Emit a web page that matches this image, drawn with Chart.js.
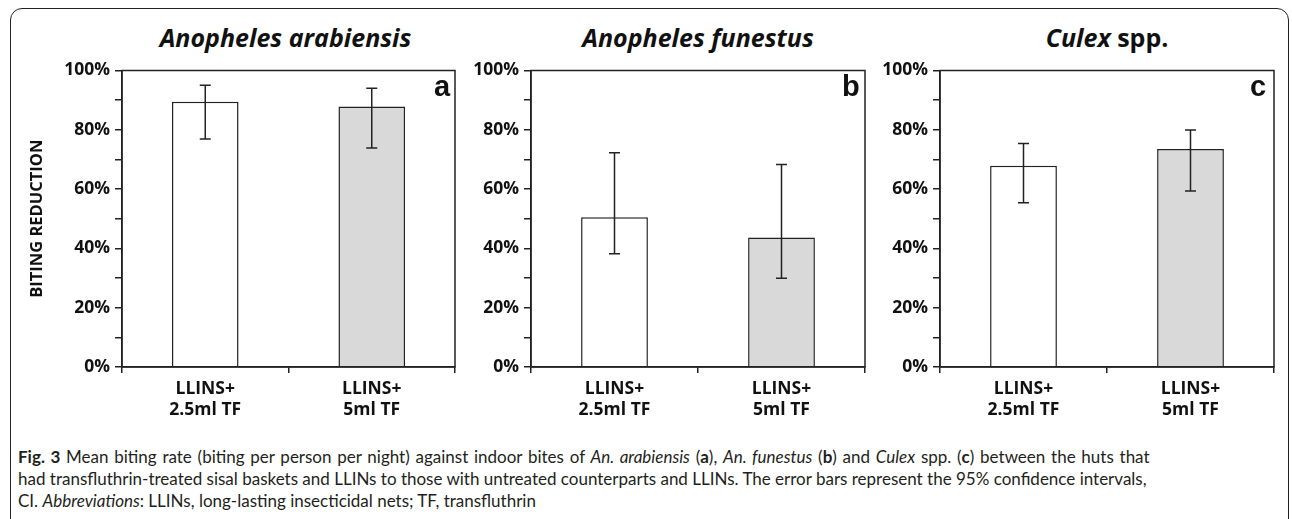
<!DOCTYPE html>
<html>
<head>
<meta charset="utf-8">
<script src="https://cdn.jsdelivr.net/npm/chart.js@4.4.1/dist/chart.umd.min.js"></script>
<style>
  body { margin: 0; width: 1292px; height: 519px; background: #fff; position: relative; overflow: hidden; }
  #frame { position: absolute; left: 10px; top: 8px; width: 1279px; height: 530px; box-sizing: border-box;
           border: 1.5px solid #222; border-radius: 12px; }
  .panel { position: absolute; top: 55px; height: 380px; }
  .title { position: absolute; top: 21px; font: italic bold 25px "Open Sans", sans-serif; color: #111;
           text-align: center; line-height: 32px; }
  .title span { font-style: normal; }
  .letter { position: absolute; top: 70px; font: bold 29px "Liberation Sans", Arial, sans-serif; color: #111; line-height: 32px; }
  #caption { position: absolute; left: 18px; top: 446px; font: 17px Lato, sans-serif; color: #231f20;
             line-height: 22px; white-space: nowrap; }
  #caption .wide { word-spacing: 1.4px; }
</style>
</head>
<body>
<div id="frame"></div>

<div class="title" style="left:119px;width:333px">Anopheles arabiensis</div>
<div class="title" style="left:531px;width:334px">Anopheles funestus</div>
<div class="title" style="left:940px;width:334px">Culex <span>spp.</span></div>

<div class="panel" style="left:10px;width:455px"><canvas id="chartA" width="455" height="380"></canvas></div>
<div class="panel" style="left:465px;width:410px"><canvas id="chartB" width="410" height="380"></canvas></div>
<div class="panel" style="left:880px;width:404px"><canvas id="chartC" width="404" height="380"></canvas></div>

<div class="letter" style="left:434px">a</div>
<div class="letter" style="left:842px">b</div>
<div class="letter" style="left:1250px">c</div>

<div id="caption">
  <span class="wide"><b>Fig. 3</b> Mean biting rate (biting per person per night) against indoor bites of <i>An. arabiensis</i> (<b>a</b>), <i>An. funestus</i> (<b>b</b>) and <i>Culex</i> spp. (<b>c</b>) between the huts that</span><br>
  had transfluthrin-treated sisal baskets and LLINs to those with untreated counterparts and LLINs. The error bars represent the 95% confidence intervals,<br>
  CI. <i>Abbreviations</i>: LLINs, long-lasting insecticidal nets; TF, transfluthrin
</div>

<script>
const treatments = [["LLINS+", "2.5ml TF"], ["LLINS+", "5ml TF"]];

// biting reduction (%), with 95% CI
const arabMean = [89.5, 87.9];
const arabLow = [76.9, 73.9];
const arabHigh = [95.0, 94.0];

const funMean = [50.5, 43.7];
const funLow = [38.2, 29.9];
const funHigh = [72.3, 68.3];

const culexMean = [67.9, 73.5];
const culexLow = [55.4, 59.4];
const culexHigh = [75.4, 79.9];

const INK = "#222";
const barColors = ["#ffffff", "#d9d9d9"];

// draws top + right edge of the plot box
const framePlugin = {
  id: "frame",
  afterDraw(chart) {
    const { ctx, chartArea: a } = chart;
    ctx.save();
    ctx.strokeStyle = INK;
    ctx.lineWidth = 1.5;
    ctx.strokeRect(a.left, a.top, a.right - a.left, a.bottom - a.top);
    ctx.restore();
  }
};

// 95% CI whiskers
const errorBars = {
  id: "errorBars",
  afterDatasetsDraw(chart, args, opts) {
    const { ctx, scales: { x, y } } = chart;
    ctx.save();
    ctx.strokeStyle = INK;
    ctx.lineWidth = 1.5;
    opts.low.forEach((lo, i) => {
      const px = x.getPixelForValue(i);
      const yLo = y.getPixelForValue(lo);
      const yHi = y.getPixelForValue(opts.high[i]);
      ctx.beginPath();
      ctx.moveTo(px, yLo); ctx.lineTo(px, yHi);
      ctx.moveTo(px - 5.5, yLo); ctx.lineTo(px + 5.5, yLo);
      ctx.moveTo(px - 5.5, yHi); ctx.lineTo(px + 5.5, yHi);
      ctx.stroke();
    });
    ctx.restore();
  }
};

function makePanel(id, means, low, high, yWidth, showTitle) {
  return new Chart(document.getElementById(id), {
    type: "bar",
    data: {
      labels: treatments,
      datasets: [{
        data: means,
        backgroundColor: barColors,
        borderColor: INK,
        borderWidth: 1.5,
        barPercentage: 0.4,
        categoryPercentage: 1
      }]
    },
    options: {
      responsive: false,
      animation: false,
      layout: { padding: { top: 13, right: 10, left: 0, bottom: 0 } },
      plugins: {
        legend: { display: false },
        tooltip: { enabled: false },
        errorBars: { low, high }
      },
      scales: {
        x: {
          grid: { offset: true, drawOnChartArea: false, tickLength: 6, color: INK, lineWidth: 1.5 },
          border: { color: INK, width: 1.5 },
          ticks: { color: "#111", font: { family: "Open Sans", weight: "bold", size: 17.5, lineHeight: 1.2 }, padding: 6, maxRotation: 0 },
          afterFit: s => { s.height = 68; }
        },
        y: {
          min: 0,
          max: 100,
          grid: { drawOnChartArea: false, tickLength: 7, color: INK, lineWidth: 1.5 },
          border: { color: INK, width: 1.5 },
          ticks: {
            stepSize: 10,
            padding: 5,
            color: "#111",
            font: { family: "Open Sans", weight: "bold", size: 17.5 },
            callback: v => (v % 20 === 0 ? v + "%" : "")
          },
          title: {
            display: showTitle,
            text: "BITING REDUCTION",
            color: "#111",
            font: { family: "Open Sans", weight: "bold", size: 16.5 },
            padding: { top: 17, bottom: 0 }
          },
          afterFit: s => { s.width = yWidth; }
        }
      }
    },
    plugins: [framePlugin, errorBars]
  });
}

makePanel("chartA", arabMean, arabLow, arabHigh, 112, true);
makePanel("chartB", funMean, funLow, funHigh, 66, false);
makePanel("chartC", culexMean, culexLow, culexHigh, 60, false);
</script>
</body>
</html>
